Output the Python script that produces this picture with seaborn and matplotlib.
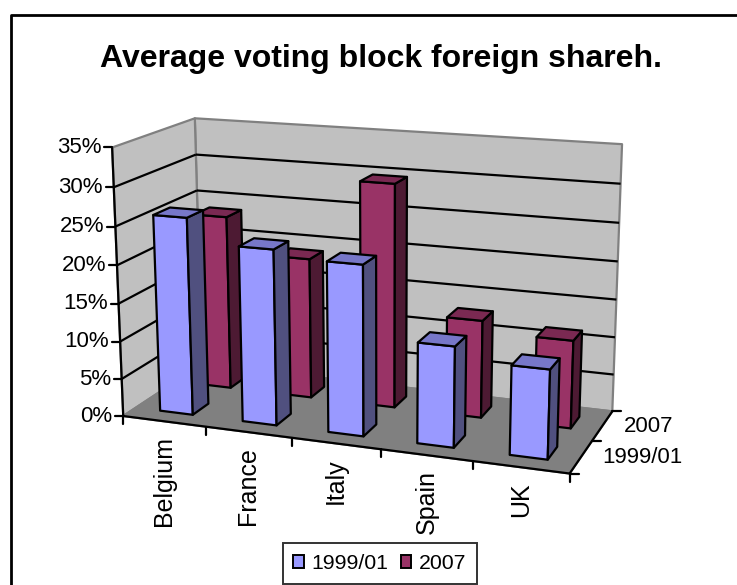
import numpy as np
import matplotlib
matplotlib.use("Agg")
import matplotlib.pyplot as plt
from matplotlib.patches import Patch
import seaborn as sns

categories = ["Belgium", "France", "Italy", "Spain", "UK"]
series_names = ["1999/01", "2007"]
values_1999 = [26.0, 22.9, 22.0, 12.9, 11.3]
values_2007 = [23.6, 18.9, 29.7, 12.9, 11.5]
value_ticks = [0, 5, 10, 15, 20, 25, 30, 35]
tick_labels = [f"{v}%" for v in value_ticks]
title_text = "Average voting block foreign shareh."

sns.set_theme(style="white", rc={"font.family": ["Liberation Sans", "DejaVu Sans"]})
W, H = 737, 585
fig = plt.figure(figsize=(W / 100, H / 100), dpi=100)
ax = fig.add_axes([0, 0, 1, 1])
ax.set_xlim(0, W)
ax.set_ylim(H, 0)
ax.axis("off")

# Camera: fit a projective map from chart space (category, depth, value) to the canvas
anchors = [((0, 0, 0), (123, 416)), ((1, 0, 0), (570, 473)), ((1, 1, 0), (612, 412)),
           ((0, 1, 0), (202, 364)), ((0, 0, 1), (112, 148)), ((0, 1, 1), (195, 118)),
           ((1, 1, 1), (622, 144))]
A, b = [], []
for (u, v, w), (px, py) in anchors:
    A.append([u, v, w, 1, 0, 0, 0, 0, -px * u, -px * v, -px * w]); b.append(px)
    A.append([0, 0, 0, 0, u, v, w, 1, -py * u, -py * v, -py * w]); b.append(py)
P = np.append(np.linalg.lstsq(np.array(A, float), np.array(b, float), rcond=None)[0], 1).reshape(3, 4)


def proj(cat, depth, val):
    h = P @ np.array([cat / len(categories), depth / len(series_names), val / value_ticks[-1], 1.0])
    return h[0] / h[2], h[1] / h[2]


def face(points, color, lw=1.6, ec="black", z=1):
    ax.fill(*zip(*[proj(*p) for p in points]), facecolor=color, edgecolor=ec, linewidth=lw,
            joinstyle="round", zorder=z)


def seg(a, b, color="black", lw=1.6, z=2):
    pa, pb = proj(*a), proj(*b)
    ax.plot([pa[0], pb[0]], [pa[1], pb[1]], color=color, lw=lw, zorder=z, solid_capstyle="butt")


nc, ns, top = len(categories), len(series_names), value_ticks[-1]
# Walls and floor
face([(0, ns, 0), (nc, ns, 0), (nc, ns, top), (0, ns, top)], "#c0c0c0", ec="#808080")
face([(0, 0, 0), (0, ns, 0), (0, ns, top), (0, 0, top)], "#c0c0c0", ec="#808080")
face([(0, 0, 0), (nc, 0, 0), (nc, ns, 0), (0, ns, 0)], "#808080", ec="#808080")
for t in value_ticks[1:-1]:
    seg((0, 0, t), (0, ns, t))
    seg((0, ns, t), (nc, ns, t))

# Axes and ticks
seg((0, 0, 0), (0, 0, top))
seg((0, 0, 0), (nc, 0, 0))
seg((nc, 0, 0), (nc, ns, 0))
for t, label in zip(value_ticks, tick_labels):
    x, y = proj(0, 0, t)
    ax.plot([x - 8, x], [y, y], color="black", lw=1.6, zorder=2)
    ax.text(x - 11, y, label, ha="right", va="center", fontsize=16, color="black")
for i in range(nc + 1):
    x, y = proj(i, 0, 0)
    ax.plot([x, x], [y, y + 8], color="black", lw=1.6, zorder=2)
for i, c in enumerate(categories):
    x, y = proj(i + 0.5, 0, 0)
    ax.text(x, y + 15, c, rotation=90, ha="center", va="top", fontsize=18, color="black")
for j, s in enumerate(series_names):
    x, y = proj(nc, j + 0.5, 0)
    ax.text(x + 21, y + 1, s, ha="left", va="center", fontsize=16, color="black")
for j in range(ns + 1):
    x, y = proj(nc, j, 0)
    ax.plot([x, x + 9], [y, y], color="black", lw=1.6, zorder=2)

# Bars: back series first, right to left inside each series
colors = {"1999/01": ("#9999ff", "#50507f", "#7777c9"), "2007": ("#993366", "#4d1a33", "#7a2952")}
data = {"1999/01": values_1999, "2007": values_2007}
for j in reversed(range(ns)):
    name = series_names[j]
    front, side, upper = colors[name]
    d0, d1 = j + 0.3, j + 0.7
    for i in reversed(range(nc)):
        x0, x1, val = i + 0.3, i + 0.7, data[name][i]
        face([(x0, d0, 0), (x1, d0, 0), (x1, d0, val), (x0, d0, val)], front, z=5)
        face([(x1, d0, 0), (x1, d1, 0), (x1, d1, val), (x1, d0, val)], side, z=5)
        face([(x0, d0, val), (x1, d0, val), (x1, d1, val), (x0, d1, val)], upper, z=5)

ax.text(381, 67, title_text, ha="center", va="baseline", fontsize=23, fontweight="bold", color="black")

# Chart frame: top and left edges fall inside the picture
ax.plot([11.5, 11.5, W], [H, 14.5, 14.5], color="black", lw=2, zorder=1)

handles = [Patch(facecolor=colors[s][0], edgecolor="black", linewidth=1.4, label=s) for s in series_names]
leg = ax.legend(handles=handles, loc="center", bbox_to_anchor=(380 / W, 1 - 563.5 / H), ncol=2, fontsize=15.3,
                frameon=True, fancybox=False, edgecolor="black", facecolor="white", handlelength=0.5,
                handleheight=0.5, columnspacing=0.56, handletextpad=0.38, borderpad=0.5, labelcolor="black",
                borderaxespad=0)
leg.get_frame().set_linewidth(1.4)

fig.savefig("out.png", dpi=100)
